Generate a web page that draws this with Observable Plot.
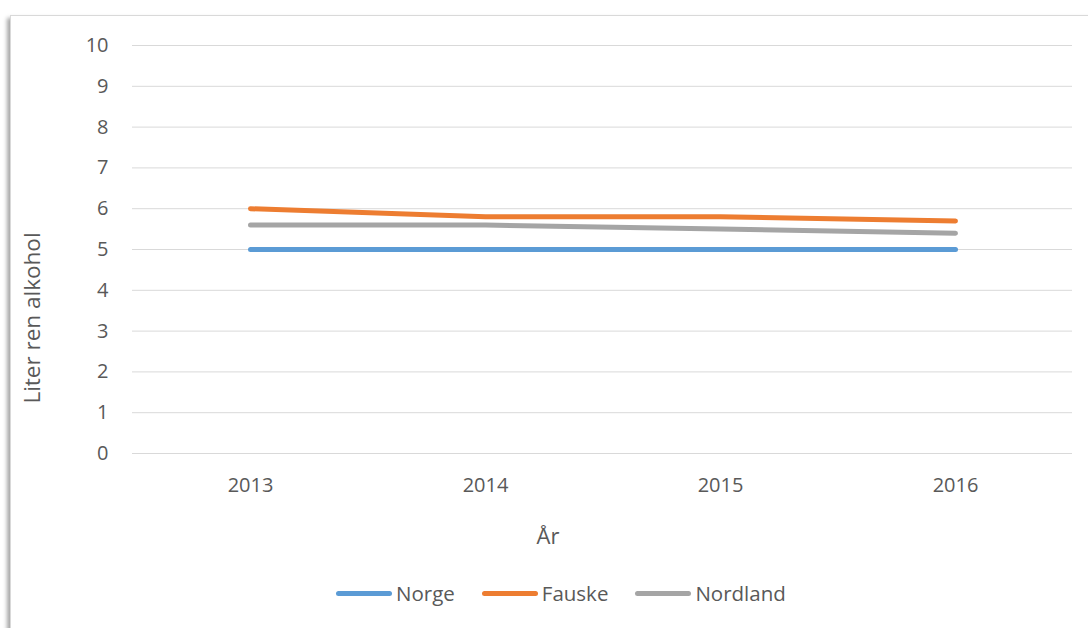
<!DOCTYPE html>
<html>
<head>
<meta charset="utf-8">
<script src="https://cdn.jsdelivr.net/npm/d3@7"></script>
<script src="https://cdn.jsdelivr.net/npm/@observablehq/plot@0.6"></script>
<style>
  html, body { margin: 0; padding: 0; background: #fff; }
  #wrap { position: relative; width: 1088px; height: 628px; overflow: hidden; font-family: "Open Sans", "Noto Sans", sans-serif; color: #595959; }
  #frame { position: absolute; left: 10px; top: 15px; width: 1100px; height: 640px; border: 1px solid #d9d9d9; box-shadow: -3px 3px 4px rgba(0,0,0,0.35); background: #fff; }
  #chart { position: absolute; left: 0; top: 0; }
  #ylabel { position: absolute; left: 31px; top: 318px; transform: translate(-50%, -50%) rotate(-90deg); font-size: 22.5px; white-space: nowrap; }
  #xlabel { position: absolute; left: 548px; top: 535px; transform: translate(-50%, -50%); font-size: 22px; }
  #legend { position: absolute; top: 593px; left: 336px; transform: translateY(-50%); display: flex; align-items: center; font-size: 20.5px; }
  .item { display: flex; align-items: center; margin-right: 27px; }
  .key { width: 56px; height: 5px; border-radius: 3px; margin-right: 4px; }
</style>
</head>
<body>
<div id="wrap">
  <div id="frame"></div>
  <div id="chart"></div>
  <div id="ylabel">Liter ren alkohol</div>
  <div id="xlabel">År</div>
  <div id="legend"></div>
</div>
<script>
const years = ["2013", "2014", "2015", "2016"];
const seriesNames = ["Norge", "Fauske", "Nordland"];
const norge = [5, 5, 5, 5];
const fauske = [6.0, 5.8, 5.8, 5.7];
const nordland = [5.6, 5.6, 5.5, 5.4];
const colors = ["#5b9bd5", "#ed7d31", "#a5a5a5"];
const yTicks = [0, 1, 2, 3, 4, 5, 6, 7, 8, 9, 10];

const valuesBySeries = [norge, fauske, nordland];
const data = [];
seriesNames.forEach((s, i) => years.forEach((y, j) => data.push({series: s, year: y, value: valuesBySeries[i][j]})));

const plot = Plot.plot({
  width: 1088,
  height: 560,
  marginLeft: 132,
  marginRight: 16,
  marginTop: 45,
  marginBottom: 107,
  style: {fontFamily: "'Open Sans', 'Noto Sans', sans-serif", fontSize: "20px", color: "#595959", background: "transparent"},
  x: {type: "point", domain: years, padding: 0.5, label: null},
  y: {domain: [0, 10], label: null},
  color: {domain: seriesNames, range: colors},
  marks: [
    Plot.gridY(yTicks, {stroke: "#d9d9d9", strokeOpacity: 1, strokeWidth: 1}),
    Plot.axisY(yTicks, {tickSize: 0, tickPadding: 24, label: null, fontSize: 20}),
    Plot.axisX(years, {tickSize: 0, tickPadding: 24, label: null, fontSize: 20}),
    Plot.line(data, {x: "year", y: "value", z: "series", stroke: "series", strokeWidth: 5, strokeLinecap: "round", strokeLinejoin: "round"})
  ]
});
document.getElementById("chart").appendChild(plot);

const legend = document.getElementById("legend");
seriesNames.forEach((s, i) => {
  const item = document.createElement("div");
  item.className = "item";
  const key = document.createElement("div");
  key.className = "key";
  key.style.background = colors[i];
  const label = document.createElement("span");
  label.textContent = s;
  item.appendChild(key);
  item.appendChild(label);
  legend.appendChild(item);
});
</script>
</body>
</html>
